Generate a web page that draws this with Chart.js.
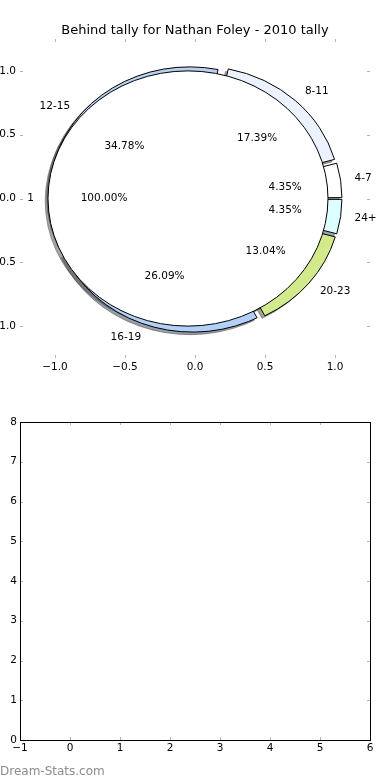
<!DOCTYPE html>
<html lang="en">
<head>
<meta charset="UTF-8">
<title>Behind tally for Nathan Foley - 2010 tally</title>
<script src="https://cdn.jsdelivr.net/npm/chart.js@4"></script>
<style>
  body { margin: 0; background: #fff; width: 390px; height: 780px; overflow: hidden; position: relative; font-family: "DejaVu Sans", sans-serif; }
  .panel { position: absolute; left: 0; width: 390px; height: 390px; }
  #top { top: 0; }
  #bottom { top: 390px; }
  .mark { position: absolute; left: 0; top: 764px; font-size: 12px; color: #8c8c8c; }
</style>
</head>
<body>
<div class="panel" id="top"><canvas id="pieChart" width="390" height="390"></canvas></div>
<div class="panel" id="bottom"><canvas id="emptyChart" width="390" height="390"></canvas></div>
<div class="mark">Dream-Stats.com</div>
<script>
// outer ring: tally bands (count of games per band)
const ringLabels = ['4-7', '8-11', '12-15', '16-19', '20-23', '24+'];
const ringCounts = [1, 4, 8, 6, 3, 1];
const ringColors = ['#ffffff', '#edf2ff', '#b9d0f2', '#b3d0f9', '#d3ea8c', '#dcffff'];

// inner pie: a single group
const coreLabels = ['1'];
const coreCounts = [23];
const coreColors = ['#ffffff'];

const pieTicks = [-1, -0.5, 0, 0.5, 1];
const emptyXTicks = [-1, 0, 1, 2, 3, 4, 5, 6];
const emptyYTicks = [0, 1, 2, 3, 4, 5, 6, 7, 8];

Chart.defaults.font.family = '"DejaVu Sans", sans-serif';
Chart.defaults.font.size = 10.5;
Chart.defaults.color = '#000';

const fmt = (v, d) => (v < 0 ? '\u2212' : '') + Math.abs(v).toFixed(d);

// matplotlib style: small grey ticks pointing into the axes on every side
const innerTicks = {
  id: 'innerTicks',
  afterDraw(chart, args, opts) {
    const { ctx, chartArea: a, scales: { x, y } } = chart;
    ctx.save();
    ctx.strokeStyle = '#b4b4b4';
    ctx.lineWidth = 1;
    ctx.beginPath();
    x.ticks.forEach(t => {
      const px = Math.round(x.getPixelForValue(t.value)) + 0.5;
      ctx.moveTo(px, a.top); ctx.lineTo(px, a.top + 3);
      ctx.moveTo(px, a.bottom); ctx.lineTo(px, a.bottom - 3);
    });
    y.ticks.forEach(t => {
      const py = Math.round(y.getPixelForValue(t.value)) + 0.5;
      ctx.moveTo(a.left, py); ctx.lineTo(a.left + 3, py);
      ctx.moveTo(a.right, py); ctx.lineTo(a.right - 3, py);
    });
    ctx.stroke();
    if (opts.frame) {
      ctx.strokeStyle = '#000';
      ctx.strokeRect(Math.round(a.left) + 0.5, Math.round(a.top) + 0.5, Math.round(a.right - a.left), Math.round(a.bottom - a.top));
    }
    ctx.restore();
  }
};

// pie wedges drawn in data units through the x / y scales
const pieLayers = {
  id: 'pieLayers',
  afterDatasetsDraw(chart, args, opts) {
    const { ctx, scales: { x, y } } = chart;
    const sx = x.getPixelForValue(1) - x.getPixelForValue(0);
    const sy = y.getPixelForValue(0) - y.getPixelForValue(1);
    const wedges = [];
    opts.rings.forEach(ring => {
      const total = ring.counts.reduce((s, c) => s + c, 0);
      let start = 0;
      ring.counts.forEach((c, i) => {
        const sweep = c / total * Math.PI * 2;
        const mid = start + sweep / 2;
        wedges.push({
          cx: ring.explode * Math.cos(mid), cy: ring.explode * Math.sin(mid),
          r: ring.radius, a1: start, a2: start + sweep, mid,
          color: ring.colors[i], label: ring.labels[i],
          pct: (c / total * 100).toFixed(2) + '%'
        });
        start += sweep;
      });
    });

    const path = (w, dx, dy) => {
      ctx.beginPath();
      ctx.save();
      ctx.translate(x.getPixelForValue(w.cx + dx), y.getPixelForValue(w.cy + dy));
      ctx.scale(sx, -sy);
      if (w.a2 - w.a1 < Math.PI * 2 - 1e-9) ctx.moveTo(0, 0);
      ctx.arc(0, 0, w.r, w.a1, w.a2, false);
      ctx.closePath();
      ctx.restore();
    };

    ctx.save();
    // shadows first
    wedges.forEach(w => {
      const c = Chart.helpers.color(w.color).rgb;
      const sh = `rgba(${c.r * 0.3},${c.g * 0.3},${c.b * 0.3},0.5)`;
      path(w, -0.02, -0.02);
      ctx.fillStyle = sh;
      ctx.fill();
      ctx.strokeStyle = sh;
      ctx.lineWidth = 1;
      ctx.stroke();
    });
    wedges.forEach(w => {
      path(w, 0, 0);
      ctx.fillStyle = w.color;
      ctx.fill();
      ctx.strokeStyle = '#000';
      ctx.lineWidth = 1;
      ctx.stroke();
    });
    ctx.fillStyle = '#000';
    ctx.font = '10.5px "DejaVu Sans", sans-serif';
    ctx.textBaseline = 'middle';
    wedges.forEach(w => {
      const lx = w.cx + 1.1 * w.r * Math.cos(w.mid);
      const ly = w.cy + 1.1 * w.r * Math.sin(w.mid);
      ctx.textAlign = lx > 0 ? 'left' : 'right';
      ctx.fillText(w.label, x.getPixelForValue(lx), y.getPixelForValue(ly));
      ctx.textAlign = 'center';
      ctx.fillText(w.pct, x.getPixelForValue(w.cx + 0.6 * w.r * Math.cos(w.mid)), y.getPixelForValue(w.cy + 0.6 * w.r * Math.sin(w.mid)));
    });
    ctx.restore();
  }
};

// an empty right-hand axis that just reserves the 20px margin
const spacer = {
  type: 'linear', position: 'right', min: 0, max: 1,
  afterFit: s => { s.width = 20; },
  grid: { display: false, drawTicks: false },
  border: { display: false },
  ticks: { display: false }
};

new Chart(document.getElementById('pieChart'), {
  type: 'scatter',
  data: { datasets: [] },
  options: {
    responsive: false,
    animation: false,
    devicePixelRatio: 1,
    layout: { padding: 0 },
    plugins: {
      legend: { display: false },
      tooltip: { enabled: false },
      title: {
        display: true,
        text: 'Behind tally for Nathan Foley - 2010 tally',
        color: '#000',
        font: { size: 13, weight: 'normal' },
        padding: { top: 23, bottom: 0.4 }
      },
      innerTicks: { frame: false },
      pieLayers: {
        rings: [
          { labels: ringLabels, counts: ringCounts, colors: ringColors, radius: 1, explode: 0.05 },
          { labels: coreLabels, counts: coreCounts, colors: coreColors, radius: 1, explode: 0.05 }
        ]
      }
    },
    scales: {
      x: {
        type: 'linear', min: -1.25, max: 1.25,
        afterBuildTicks: s => { s.ticks = pieTicks.map(v => ({ value: v })); },
        afterFit: s => { s.height = 32; },
        grid: { display: false, drawTicks: false },
        border: { display: false },
        ticks: { padding: 3, maxRotation: 0, callback: v => fmt(v, 1) }
      },
      y: {
        type: 'linear', min: -1.25, max: 1.25,
        afterBuildTicks: s => { s.ticks = pieTicks.map(v => ({ value: v })); },
        afterFit: s => { s.width = 20; },
        grid: { display: false, drawTicks: false },
        border: { display: false },
        ticks: { padding: 4, callback: v => fmt(v, 1) }
      },
      y2: spacer
    }
  },
  plugins: [pieLayers, innerTicks]
});

new Chart(document.getElementById('emptyChart'), {
  type: 'scatter',
  data: { datasets: [{ data: [] }] },
  options: {
    responsive: false,
    animation: false,
    devicePixelRatio: 1,
    layout: { padding: { left: 0, right: 0, top: 32, bottom: 0 } },
    plugins: {
      legend: { display: false },
      tooltip: { enabled: false },
      innerTicks: { frame: true }
    },
    scales: {
      x: {
        type: 'linear', min: emptyXTicks[0], max: emptyXTicks[emptyXTicks.length - 1],
        afterBuildTicks: s => { s.ticks = emptyXTicks.map(v => ({ value: v })); },
        afterFit: s => { s.height = 40; },
        grid: { display: false, drawTicks: false },
        border: { display: false },
        ticks: { padding: 2, maxRotation: 0, callback: v => fmt(v, 0) }
      },
      y: {
        type: 'linear', min: emptyYTicks[0], max: emptyYTicks[emptyYTicks.length - 1],
        afterBuildTicks: s => { s.ticks = emptyYTicks.map(v => ({ value: v })); },
        afterFit: s => { s.width = 20; },
        grid: { display: false, drawTicks: false },
        border: { display: false },
        ticks: { padding: 3, callback: v => fmt(v, 0) }
      },
      y2: spacer
    }
  },
  plugins: [innerTicks]
});
</script>
</body>
</html>
